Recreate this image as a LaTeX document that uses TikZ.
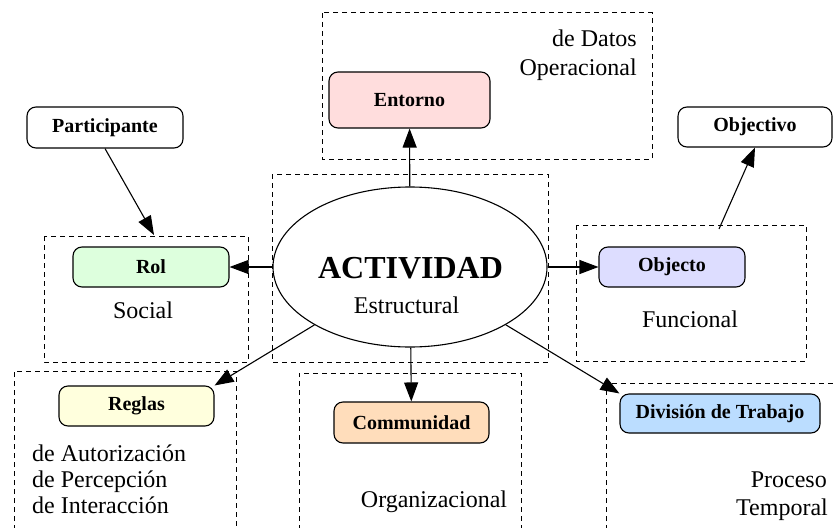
\documentclass[tikz,border=0pt]{standalone}
\usepackage{fontspec}
\setmainfont{Liberation Serif}[UprightFont={Liberation Serif}, BoldFont={Liberation Serif Bold}, ItalicFont={Liberation Serif Italic}]
\usetikzlibrary{arrows.meta,shapes.geometric}
\definecolor{cpink}{HTML}{FFDDDD}
\definecolor{cgreen}{HTML}{DDFFDD}
\definecolor{cviolet}{HTML}{DDDDFF}
\definecolor{cyellow}{HTML}{FFFFDD}
\definecolor{cpeach}{HTML}{FFDDBB}
\definecolor{cblue}{HTML}{BBDDFF}
\tikzset{
  box/.style={draw, line width=1.1pt, rounded corners=9pt, inner sep=0pt,
    font=\rmfamily\fontsize{20}{24}\selectfont\bfseries},
  clus/.style={draw, line width=1pt, dash pattern=on 5pt off 4pt},
  lbl/.style={inner sep=0pt, font=\rmfamily\mdseries\fontsize{24}{26}\selectfont},
  arr/.style={line width=1.1pt, -{Triangle[length=19pt,width=14pt]}},
}
\begin{document}
\begin{tikzpicture}[x=1pt,y=-1pt]
\useasboundingbox (0,0) rectangle (834,527);
% clusters
\draw[clus] (322,13) rectangle (652,159);
\draw[clus] (44,236) rectangle (248,362);
\draw[clus] (272,174) rectangle (548,362);
\draw[clus] (576,225) rectangle (806,361);
\draw[clus] (14,530) -- (14,371) -- (236,371) -- (236,530);
\draw[clus] (299,530) -- (299,373) -- (521,373) -- (521,530);
\draw[clus] (606,530) -- (606,383) -- (840,383);
% central ellipse
\node[ellipse, draw, line width=1.1pt, minimum width=274pt, minimum height=160pt, inner sep=0pt] (act) at (410,267) {};
\node[inner sep=0pt, anchor=base, font=\rmfamily\fontsize{32}{36}\selectfont\bfseries] (actt) at (410.5,278) {ACTIVIDAD};
\node[lbl, anchor=base] (estr) at (406.5,313) {Estructural};
% boxes
\node[box, fill=white, minimum width=156pt, minimum height=41pt] (part) at (105,127.5) {Participante};
\node[box, fill=cpink, minimum width=161pt, minimum height=56pt] (ent) at (409.5,100) {Entorno};
\node[box, fill=white, minimum width=154pt, minimum height=40pt] (obj) at (755,127) {Objectivo};
\node[box, fill=cgreen, minimum width=156pt, minimum height=40pt] (rol) at (151,267) {Rol};
\node[box, fill=cviolet, minimum width=146pt, minimum height=40pt] (objc) at (672,267) {Objecto};
\node[box, fill=cyellow, minimum width=155pt, minimum height=40pt] (reg) at (136.5,406) {Reglas};
\node[box, fill=cpeach, minimum width=155pt, minimum height=41pt] (com) at (411.5,422.5) {Communidad};
\node[box, fill=cblue, minimum width=200pt, minimum height=39pt] (div) at (720,413.5) {División de Trabajo};
% cluster labels
\node[lbl, anchor=base east] (dd) at (637,47) {de Datos};
\node[lbl, anchor=base east] (op) at (637,75) {Operacional};
\node[lbl, anchor=base] (soc) at (143,318) {Social};
\node[lbl, anchor=base] (fun) at (690,327) {Funcional};
\node[lbl, anchor=base west] (aut) at (32,461) {de Autorización};
\node[lbl, anchor=base west] (per) at (32,487) {de Percepción};
\node[lbl, anchor=base west] (int) at (32,513) {de Interacción};
\node[lbl, anchor=base] (org) at (434,507) {Organizacional};
\node[lbl, anchor=base east] (pro) at (827,487) {Proceso};
\node[lbl, anchor=base east] (tem) at (828,515) {Temporal};
% connector end points on cluster borders
\coordinate (rolin) at (154,235);
\coordinate (objout) at (719,229);
% connectors
\draw[arr] (act) -- (ent);
\draw[arr] (act) -- (rol);
\draw[arr] (act) -- (objc);
\draw[arr] (act) -- (com);
\draw[arr] (act) -- (reg.north east);
\draw[arr] (act) -- (div.north west);
\draw[arr] (part.south) -- (rolin);
\draw[arr] (objout) -- (obj.south);
\end{tikzpicture}
\end{document}
